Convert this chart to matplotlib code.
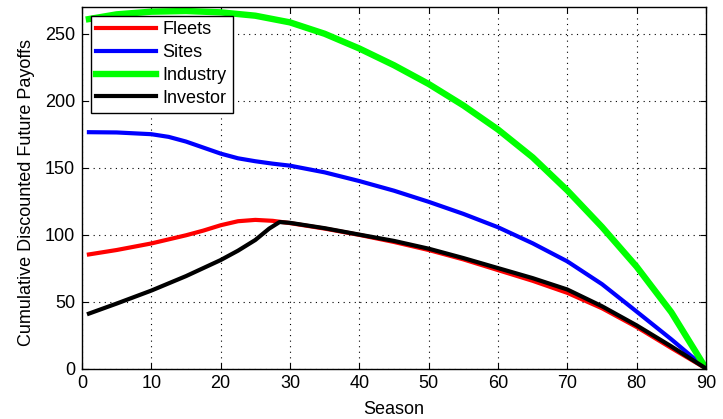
import matplotlib
matplotlib.use('Agg')
import matplotlib.pyplot as plt

plt.rcParams['font.family'] = ['Liberation Sans', 'DejaVu Sans']

# values
fleets_x = [1, 5, 10, 15, 17.5, 20, 22.5, 25, 27.5, 30, 35, 40, 45, 50, 55, 60, 65, 70, 75, 80, 85, 90]
fleets = [85.2, 88.5, 93.4, 99.5, 103, 107, 110, 111, 110.3, 108.6, 104.5, 99.8, 94.5, 88.5, 81.5, 73.5, 65.5, 56.5, 45, 31, 15.3, 0]

sites_x = [1, 5, 10, 12.5, 15, 17.5, 20, 22.5, 25, 27.5, 30, 35, 40, 45, 50, 55, 60, 65, 70, 75, 80, 85, 90]
sites = [176.5, 176.3, 175, 173, 169.5, 165, 160.5, 157, 154.8, 153, 151.5, 146.5, 140, 132.8, 124.5, 115.5, 105.5, 93.5, 80, 63, 42.5, 21.8, 0]

industry_x = [1, 5, 10, 15, 20, 25, 30, 35, 40, 45, 50, 55, 60, 65, 70, 75, 80, 85, 90]
industry = [261, 264.5, 266.5, 267, 266, 263.5, 258.5, 250, 239, 226.5, 212.5, 196.5, 178.5, 157.7, 133, 105.7, 76, 42, 0]

investor_x = [1, 5, 10, 15, 20, 22.5, 25, 27, 28.5, 30, 35, 40, 45, 50, 55, 60, 65, 70, 75, 80, 85, 90]
investor = [41, 48.5, 58.2, 69, 81, 88, 96, 104.5, 109.4, 108.8, 104.8, 100, 95.3, 89.5, 82.5, 75, 67.5, 59, 46.5, 32.2, 16.5, 0]

fig = plt.figure(figsize=(7.23, 4.19), dpi=100)
ax = fig.add_axes([0.1134, 0.1205, 0.8631, 0.8628])

ax.plot(fleets_x, fleets, color='#ff0000', lw=3, label='Fleets')
ax.plot(sites_x, sites, color='#0000ff', lw=3, label='Sites')
ax.plot(industry_x, industry, color='#00ff00', lw=4.6, label='Industry')
ax.plot(investor_x, investor, color='black', lw=3, label='Investor')

ax.set_xlim(0, 90)
ax.set_ylim(0, 270)
ax.set_xticks(range(0, 91, 10))
ax.set_yticks(range(0, 251, 50))
ax.grid(True, color='black', linestyle=(0, (1, 4)), lw=0.8)
ax.tick_params(direction='in', top=True, right=True, labelsize=13, length=4, pad=5)
for s in ax.spines.values():
    s.set_linewidth(1.0)

ax.set_xlabel('Season', fontsize=13, labelpad=6)
ax.set_ylabel('Cumulative Discounted Future Payoffs', fontsize=13)
ax.yaxis.set_label_coords(-0.075, 0.486)

leg = ax.legend(loc='upper left', fontsize=13, fancybox=False, framealpha=1,
                edgecolor='black', handlelength=3.3, borderaxespad=0.48,
                labelspacing=0.32, handletextpad=0.37, borderpad=0.32)
leg.get_frame().set_linewidth(1.0)

fig.savefig('out.png', dpi=100)
